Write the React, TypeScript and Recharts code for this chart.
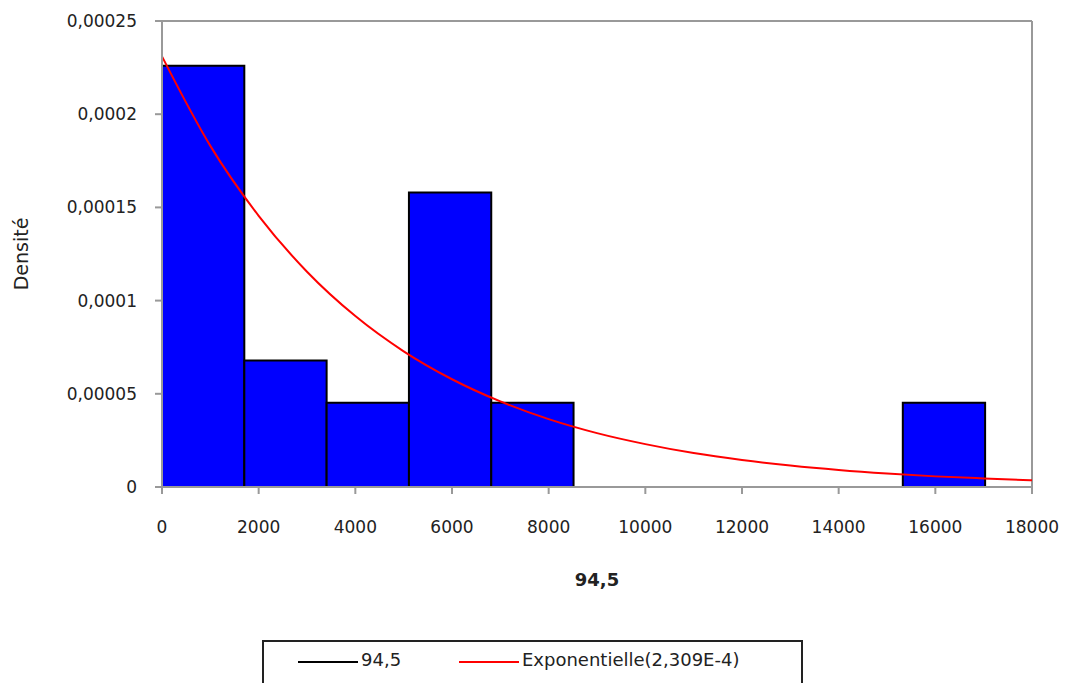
import { ComposedChart, Line, XAxis, YAxis, ReferenceArea, ReferenceLine, Label } from "recharts";

// histogram bins (left edge, right edge, density)
const binStart = [0, 1703, 3406, 5109, 6812, 15327];
const binEnd = [1703, 3406, 5109, 6812, 8515, 17030];
const binDensity = [0.000226, 0.0000678, 0.0000452, 0.000158, 0.0000452, 0.0000452];

// fitted exponential curve
const curveX = [0, 1000, 2000, 3000, 4000, 5000, 6000, 7000, 8000, 9000, 10000, 11000, 12000, 13000, 14000, 15000, 16000, 17000, 18000];
const curveY = [0.000231, 0.000183, 0.0001455, 0.0001155, 0.0000917, 0.0000728, 0.0000578, 0.0000459, 0.0000364, 0.0000289, 0.000023, 0.0000182, 0.0000145, 0.0000115, 0.0000091, 0.0000072, 0.0000057, 0.0000046, 0.0000036];

const xTicks = [0, 2000, 4000, 6000, 8000, 10000, 12000, 14000, 16000, 18000];
const yTicks = [0, 0.00005, 0.0001, 0.00015, 0.0002, 0.00025];
const yTickLabels = ["0", "0,00005", "0,0001", "0,00015", "0,0002", "0,00025"];

const curveData = curveX.map((x, i) => ({ x, density: curveY[i] }));

const FONT = "'DejaVu Sans', sans-serif";
const AXIS = "#999999";
const TXT = "#222222";

function ChartLegend() {
  return (
    <div
      style={{
        position: "absolute",
        left: 262,
        top: 640,
        width: 541,
        height: 60,
        border: "2px solid #222",
        fontFamily: FONT,
        fontSize: 18,
        color: TXT,
        boxSizing: "border-box",
      }}
    >
      <div style={{ position: "absolute", left: 34, top: 19, width: 60, borderTop: "2px solid #000" }} />
      <span style={{ position: "absolute", left: 97, top: 7 }}>94,5</span>
      <div style={{ position: "absolute", left: 195, top: 19, width: 60, borderTop: "2px solid #ff0000" }} />
      <span style={{ position: "absolute", left: 258, top: 7 }}>Exponentielle(2,309E-4)</span>
    </div>
  );
}

export default function App() {
  return (
    <div style={{ position: "absolute", left: 0, top: 0, width: 1065, height: 683, overflow: "hidden", background: "#fff" }}>
      <ComposedChart width={1065} height={683} data={curveData} margin={{ top: 21, right: 33, bottom: 0, left: 0 }}>
        <XAxis
          dataKey="x"
          type="number"
          domain={[0, 18000]}
          ticks={xTicks}
          interval={0}
          stroke={AXIS}
          strokeWidth={2}
          tickSize={7}
          tickMargin={27}
          height={196}
          tick={{ fill: TXT, fontFamily: FONT, fontSize: 17 }}
        >
          <Label value="94,5" position="insideTop" offset={86} style={{ fill: TXT, fontFamily: FONT, fontSize: 18, fontWeight: "bold" }} />
        </XAxis>
        <YAxis
          type="number"
          domain={[0, 0.00025]}
          ticks={yTicks}
          interval={0}
          width={162}
          stroke={AXIS}
          strokeWidth={2}
          tickSize={7}
          tickMargin={18}
          tickFormatter={(v: number) => yTickLabels[yTicks.indexOf(v)] ?? String(v)}
          tick={{ fill: TXT, fontFamily: FONT, fontSize: 17 }}
        >
          <Label
            value="Densité"
            angle={-90}
            position="insideLeft"
            offset={21}
            style={{ fill: TXT, fontFamily: FONT, fontSize: 19, textAnchor: "middle" }}
          />
        </YAxis>
        <ReferenceLine y={0.00025} stroke={AXIS} strokeWidth={2} />
        <ReferenceLine x={18000} stroke={AXIS} strokeWidth={2} />
        {binStart.map((s, i) => (
          <ReferenceArea
            key={i}
            x1={s}
            x2={binEnd[i]}
            y1={0}
            y2={binDensity[i]}
            fill="#0000ff"
            fillOpacity={1}
            stroke="#000"
            strokeWidth={2}
          />
        ))}
        <Line
          type="monotone"
          dataKey="density"
          stroke="#ff0000"
          strokeWidth={2}
          dot={false}
          isAnimationActive={false}
        />
      </ComposedChart>
      <ChartLegend />
    </div>
  );
}
